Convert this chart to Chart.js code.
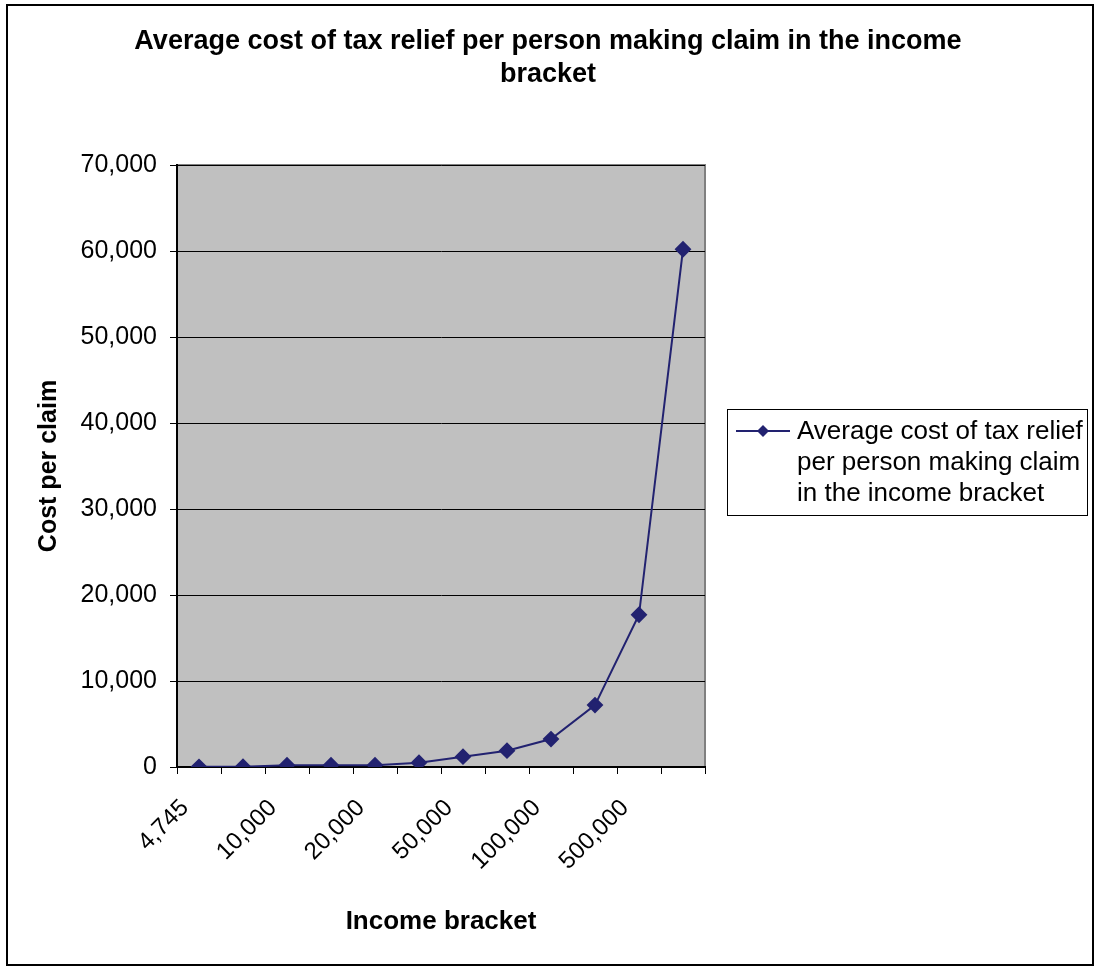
<!DOCTYPE html>
<html lang="en">

<head>
    <meta charset="UTF-8">
    <title>Average cost of tax relief</title>
    <script src="https://cdn.jsdelivr.net/npm/chart.js"></script>
    <style>
        body {
            margin: 0;
            padding: 0;
            background: white;
        }

        .frame {
            position: absolute;
            left: 6px;
            top: 4px;
            width: 1084px;
            height: 958px;
            border: 2px solid black;
        }

        .wrap {
            position: absolute;
            left: 0;
            top: 0;
            width: 1096px;
            height: 967px;
        }
    </style>
</head>

<body>
    <div class="frame"></div>
    <div class="wrap"><canvas id="taxChart"></canvas></div>

    <script>
        // income brackets (only every other one is labelled on the axis)
        const brackets = ['4,745', '7,500', '10,000', '15,000', '20,000', '30,000',
            '50,000', '70,000', '100,000', '200,000', '500,000', '1,000,000'];
        const costPerClaim = [20, 30, 200, 200, 200, 500, 1200, 1900, 3250, 7200, 17700, 60200];
        const seriesName = 'Average cost of tax relief per person making claim in the income bracket';
        const titleLines = ['Average cost of tax relief per person making claim in the income', 'bracket'];
        const legendLines = ['Average cost of tax relief', 'per person making claim', 'in the income bracket'];

        const FONT = "'Liberation Sans', Arial, sans-serif";
        const navy = '#222270';

        // grey plot area + outline
        const plotBg = {
            id: 'plotBg',
            beforeDraw(chart) {
                const a = chart.chartArea, c = chart.ctx;
                c.save();
                c.fillStyle = '#c0c0c0';
                c.fillRect(a.left, a.top, a.right - a.left, a.bottom - a.top);
                c.strokeStyle = '#808080';
                c.lineWidth = 2;
                c.strokeRect(a.left, a.top, a.right - a.left, a.bottom - a.top);
                c.restore();
            }
        };

        // title centred on the whole canvas, not just the plot side
        const pageTitle = {
            id: 'pageTitle',
            afterDraw(chart) {
                const c = chart.ctx;
                c.save();
                c.fillStyle = '#000';
                c.font = 'bold 27px ' + FONT;
                c.textAlign = 'center';
                c.textBaseline = 'middle';
                titleLines.forEach((t, i) => c.fillText(t, chart.width / 2, 42 + i * 33));
                c.restore();
            }
        };

        // boxed legend to the right with wrapped text
        const boxLegend = {
            id: 'boxLegend',
            afterDraw(chart) {
                const a = chart.chartArea, c = chart.ctx;
                const x = a.right + 22, y = 409, w = 360, h = 106;
                c.save();
                c.strokeStyle = '#000';
                c.lineWidth = 1;
                c.strokeRect(x + 0.5, y + 0.5, w, h);
                c.strokeStyle = navy;
                c.lineWidth = 2;
                c.beginPath();
                c.moveTo(x + 9, y + 22);
                c.lineTo(x + 63, y + 22);
                c.stroke();
                c.fillStyle = navy;
                c.beginPath();
                c.moveTo(x + 36, y + 16);
                c.lineTo(x + 42, y + 22);
                c.lineTo(x + 36, y + 28);
                c.lineTo(x + 30, y + 22);
                c.closePath();
                c.fill();
                c.fillStyle = '#000';
                c.font = '26px ' + FONT;
                c.textBaseline = 'middle';
                legendLines.forEach((t, i) => c.fillText(t, x + 70, y + 23 + i * 31));
                c.restore();
            }
        };

        new Chart(document.getElementById('taxChart'), {
            type: 'line',
            data: {
                labels: brackets,
                datasets: [{
                    label: seriesName,
                    data: costPerClaim,
                    borderColor: navy,
                    backgroundColor: navy,
                    borderWidth: 2,
                    pointStyle: 'rectRot',
                    pointRadius: 7,
                    pointHoverRadius: 7,
                    tension: 0,
                    fill: false
                }]
            },
            options: {
                responsive: true,
                maintainAspectRatio: false,
                animation: false,
                layout: {
                    padding: { left: 34, right: 391, top: 165, bottom: 20 }
                },
                plugins: {
                    legend: { display: false },
                    tooltip: { enabled: false },
                    title: { display: false }
                },
                scales: {
                    x: {
                        offset: true,
                        grid: {
                            offset: true,
                            drawOnChartArea: false,
                            color: '#000',
                            tickLength: 7
                        },
                        border: { color: '#000', width: 2 },
                        ticks: {
                            autoSkip: false,
                            minRotation: 45,
                            maxRotation: 45,
                            padding: 20,
                            labelOffset: -14,
                            color: '#000',
                            font: { family: FONT, size: 24 },
                            callback: function (v, i) { return i % 2 === 0 ? brackets[i] : ''; }
                        },
                        title: {
                            display: true,
                            text: 'Income bracket',
                            color: '#000',
                            font: { family: FONT, size: 26, weight: 'bold' },
                            padding: { top: 0, bottom: 10 }
                        },
                        afterFit(scale) { scale.height = 180; }
                    },
                    y: {
                        min: 0,
                        max: 70000,
                        grid: {
                            color: '#000',
                            tickLength: 7
                        },
                        border: { color: '#000', width: 2 },
                        ticks: {
                            stepSize: 10000,
                            color: '#000',
                            padding: 13,
                            font: { family: FONT, size: 25 },
                            callback: v => v.toLocaleString('en-US')
                        },
                        title: {
                            display: true,
                            text: 'Cost per claim',
                            color: '#000',
                            font: { family: FONT, size: 25, weight: 'bold' },
                            padding: { top: 0, bottom: 0 }
                        },
                        afterFit(scale) { scale.width = 143; }
                    }
                }
            },
            plugins: [plotBg, pageTitle, boxLegend]
        });
    </script>
</body>

</html>
